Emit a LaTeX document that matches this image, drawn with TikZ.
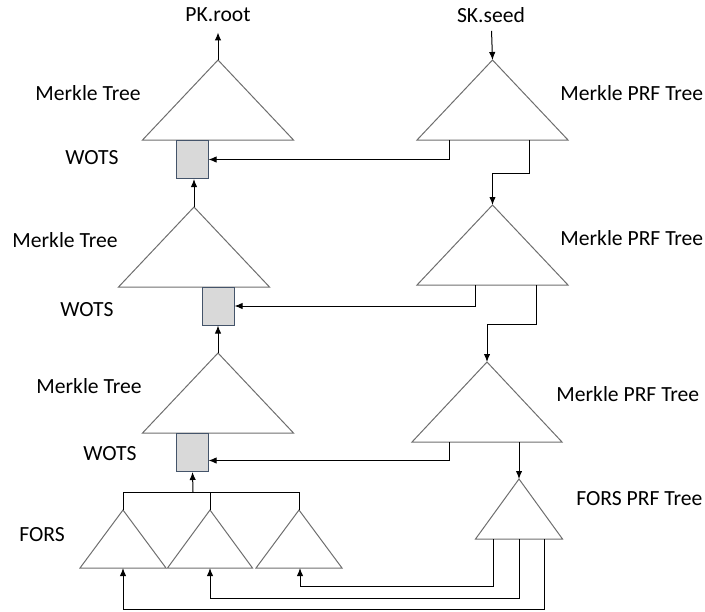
\documentclass[tikz,border=0pt]{standalone}
\usepackage{fontspec}
\setmainfont{Carlito}
\usetikzlibrary{arrows.meta,positioning}
\definecolor{treeline}{RGB}{110,110,110}
\definecolor{wotsfill}{RGB}{217,217,217}
\definecolor{wotsline}{RGB}{68,84,106}
\tikzset{tri/.style={draw=treeline, line width=0.5pt, line join=miter}}
\tikzset{arr/.style={draw, -{Latex[length=4pt,width=3.2pt]}, line width=0.5pt}}
\tikzset{wots/.style={draw=wotsline, fill=wotsfill, line width=0.5pt, minimum width=16pt, minimum height=19pt, inner sep=0pt}}
\tikzset{lbl/.style={inner sep=2pt}}
% tree: name, apex x, apex y, half width, height
\newcommand{\tree}[5]{\coordinate (#1) at (#2,#3); \draw[tri] (#1) -- ++(-#4,#5) -- ++(2*#4,0) -- cycle;}

\begin{document}
\begin{tikzpicture}[x=0.5pt, y=-0.5pt, font=\fontsize{10.8}{13}\selectfont]
	\useasboundingbox (0,0) rectangle (705,611);
	
	% hypertree
	\tree{m1}{218}{60}{75.5}{80}
	\tree{m2}{194}{207}{75.5}{80}
	\tree{m3}{218}{353}{75.5}{80}
	\node[wots] (w1) at (192,159.5){};
	\node[wots] (w2) at (218,306){};
	\node[wots] (w3) at (192,452.5){};
	
	% FORS
	\tree{f1}{123}{510}{43}{58}
	\tree{f2}{210}{510}{42.5}{58}
	\tree{f3}{299}{510}{43}{58}
	\coordinate (fj) at (193,492);
	\coordinate (f1b) at (123,568);
	\coordinate (f2b) at (210,568);
	\coordinate (f3b) at (300,568);
	
	% PRF trees
	\tree{r1}{492.5}{60}{75.5}{80}
	\tree{r2}{492.5}{205}{75.5}{80}
	\tree{r3}{487}{362}{75}{80}
	\tree{fp}{519}{479}{43.5}{60}
	\coordinate (r1a) at (449,140);
	\coordinate (r1b) at (529,140);
	\coordinate (r2a) at (475,285);
	\coordinate (r2b) at (536,285);
	\coordinate (r3a) at (449,442);
	\coordinate (r3b) at (519,442);
	\coordinate (fpa) at (493,539);
	\coordinate (fpb) at (519,539);
	\coordinate (fpc) at (544,539);
	
	% labels
	\node[lbl] (pk) at (218,15){PK.root};
	\node[lbl] (sk) at (491,15){SK.seed};
	\node[lbl] (lm1) at (88,93){Merkle Tree};
	\node[lbl] (lm2) at (65,240){Merkle Tree};
	\node[lbl] (lm3) at (89,386){Merkle Tree};
	\node[lbl] (lw1) at (92,158){WOTS};
	\node[lbl] (lw2) at (87,310){WOTS};
	\node[lbl] (lw3) at (110,454){WOTS};
	\node[lbl] (lf) at (42,535){FORS};
	\node[lbl, anchor=west] (lr1) at (556,93){Merkle PRF Tree};
	\node[lbl, anchor=west] (lr2) at (556,238){Merkle PRF Tree};
	\node[lbl, anchor=west] (lr3) at (552,394){Merkle PRF Tree};
	\node[lbl, anchor=west] (lfp) at (572,499){FORS PRF Tree};
	
	% left column
	\draw[arr, shorten >=3pt] (m1) -- (pk);
	\draw[arr] (m2) -- (m2 |- w1.south);
	\draw[arr] (m3) -- (w2);
	\draw (f1) |- (fj) -| (f3);
	\draw (f2) -- (f2 |- fj);
	\draw[arr] (fj) -- (w3);
	
	% right column
	\draw[arr, shorten <=2pt] (sk) -- (r1);
	\draw[arr] (r1a) |- (w1);
	\draw[arr] (r1b) -- ++(0,33) -| (r2);
	\draw[arr] (r2a) |- (w2);
	\draw[arr] (r2b) -- ++(0,39) -| (r3);
	\draw[arr] (r3a) |- ([yshift=-4pt]w3.east);
	\draw[arr] (r3b) -- (fp);
	\draw[arr] (fpa) -- ++(0,47) -| (f3b);
	\draw[arr] (fpb) -- ++(0,59) -| (f2b);
	\draw[arr] (fpc) -- ++(0,70) -| (f1b);
\end{tikzpicture}
\end{document}
